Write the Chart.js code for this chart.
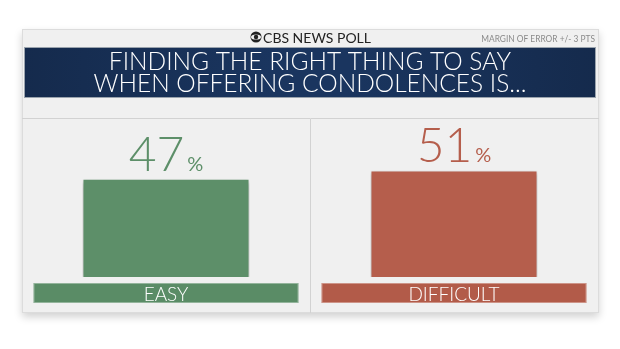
<!DOCTYPE html>
<html>
<head>
<meta charset="utf-8">
<script src="https://cdn.jsdelivr.net/npm/chart.js@4/dist/chart.umd.min.js"></script>
<style>
  html, body { margin: 0; padding: 0; background: #ffffff; }
  #wrap { width: 620px; height: 349px; position: relative; }
</style>
</head>
<body>
<div id="wrap"><canvas id="poll"></canvas></div>
<script>
// Poll answers
const answers = ['EASY', 'DIFFICULT'];
const shares = [47, 51];
const barColors = ['#5d8f69', '#b55e4c'];
const labelColors = ['#5a8c66', '#b25b49'];
const titleLines = ['FINDING THE RIGHT THING TO SAY', 'WHEN OFFERING CONDOLENCES IS...'];
const brand = 'CBS NEWS POLL';
const marginNote = 'MARGIN OF ERROR +/- 3 PTS';

const FONT = 'Lato, "Open Sans", sans-serif';

// Card, header strip and navy title banner behind the chart
const backdrop = {
    id: 'backdrop',
    beforeDraw(chart) {
        const ctx = chart.ctx;
        ctx.save();
        ctx.fillStyle = '#ffffff';
        ctx.fillRect(0, 0, chart.width, chart.height);

        // card with soft shadow
        ctx.shadowColor = 'rgba(0,0,0,0.18)';
        ctx.shadowBlur = 8;
        ctx.shadowOffsetY = 4;
        ctx.fillStyle = '#f0f0f0';
        ctx.fillRect(22, 29, 577, 284);
        ctx.shadowColor = 'transparent';
        ctx.strokeStyle = '#dcdcdc';
        ctx.lineWidth = 1;
        ctx.strokeRect(22.5, 29.5, 576, 283);

        // brand line
        ctx.fillStyle = '#222';
        ctx.font = '14px ' + FONT;
        ctx.textBaseline = 'alphabetic';
        ctx.textAlign = 'left';
        const bw = ctx.measureText(brand).width;
        const bx = 310 - (bw + 14) / 2 + 14;
        // eye mark
        ctx.beginPath();
        ctx.arc(bx - 7, 37, 5.5, 0, Math.PI * 2);
        ctx.fill();
        ctx.fillStyle = '#f0f0f0';
        ctx.beginPath();
        ctx.ellipse(bx - 7, 37, 5, 2.6, 0, 0, Math.PI * 2);
        ctx.fill();
        ctx.fillStyle = '#222';
        ctx.beginPath();
        ctx.arc(bx - 7, 37, 2.2, 0, Math.PI * 2);
        ctx.fill();
        ctx.fillText(brand, bx, 42.5);

        // margin note, slightly condensed
        ctx.fillStyle = '#8a8a8a';
        ctx.font = '9.5px ' + FONT;
        ctx.textAlign = 'right';
        ctx.save();
        ctx.translate(595, 42);
        ctx.scale(0.88, 1);
        ctx.fillText(marginNote, 0, 0);
        ctx.restore();

        // navy banner
        const g = ctx.createRadialGradient(310, 72, 40, 310, 72, 320);
        g.addColorStop(0, '#1a355f');
        g.addColorStop(1, '#14294a');
        ctx.fillStyle = g;
        ctx.fillRect(24, 47, 572, 51);
        ctx.strokeStyle = '#9aa3ad';
        ctx.strokeRect(24.5, 47.5, 571, 50);

        ctx.fillStyle = '#ffffff';
        ctx.font = '300 24.5px ' + FONT;
        ctx.textAlign = 'center';
        ctx.fillText(titleLines[0], 310, 70);
        ctx.fillText(titleLines[1], 310, 92);

        // panel separators
        ctx.strokeStyle = '#d2d2d2';
        ctx.beginPath();
        ctx.moveTo(22, 118.5);
        ctx.lineTo(599, 118.5);
        ctx.moveTo(310.5, 119);
        ctx.lineTo(310.5, 313);
        ctx.stroke();
        ctx.restore();
    }
};

// Shadow under the bars
const barShadow = {
    id: 'barShadow',
    beforeDatasetsDraw(chart) {
        const ctx = chart.ctx;
        ctx.save();
        ctx.shadowColor = 'rgba(0,0,0,0.3)';
        ctx.shadowBlur = 5;
        ctx.shadowOffsetY = 2;
    },
    afterDatasetsDraw(chart) {
        chart.ctx.restore();
    }
};

// Value labels above bars and category strips below
const annotate = {
    id: 'annotate',
    afterDraw(chart) {
        const ctx = chart.ctx;
        const xs = chart.scales.x;
        const meta = chart.getDatasetMeta(0);
        ctx.save();
        answers.forEach((name, i) => {
            const bar = meta.data[i];
            const cx = xs.getPixelForValue(i);
            const span = xs.width / answers.length;
            const w = span * 0.92;

            // category strip
            ctx.fillStyle = labelColors[i];
            ctx.fillRect(cx - w / 2, 283, w, 20);
            ctx.strokeStyle = 'rgba(255,255,255,0.35)';
            ctx.strokeRect(cx - w / 2 + 0.5, 283.5, w - 1, 19);
            ctx.fillStyle = '#ffffff';
            ctx.font = '300 19px ' + FONT;
            ctx.textAlign = 'center';
            ctx.textBaseline = 'alphabetic';
            ctx.fillText(name, cx, 300.5);

            // percentage
            ctx.fillStyle = barColors[i];
            ctx.font = '300 48px ' + FONT;
            const num = String(shares[i]);
            const nw = ctx.measureText(num).width;
            ctx.font = '20px ' + FONT;
            const pw = ctx.measureText('%').width;
            const total = nw + 3 + pw;
            const left = cx - total / 2;
            const base = bar.y - 8;
            ctx.textAlign = 'left';
            ctx.font = '300 48px ' + FONT;
            ctx.fillText(num, left, base);
            ctx.font = '20px ' + FONT;
            ctx.fillText('%', left + nw + 3, base);
        });
        ctx.restore();
    }
};

new Chart(document.getElementById('poll'), {
    type: 'bar',
    data: {
        labels: answers,
        datasets: [{
            data: shares,
            backgroundColor: barColors,
            borderColor: 'rgba(255,255,255,0.3)',
            borderWidth: 1,
            categoryPercentage: 1,
            barPercentage: 0.58
        }]
    },
    options: {
        responsive: true,
        maintainAspectRatio: false,
        animation: false,
        layout: { padding: { left: 22, right: 22, top: 68, bottom: 72 } },
        plugins: {
            legend: { display: false },
            tooltip: { enabled: false }
        },
        scales: {
            x: { display: false },
            y: { display: false, min: 0, max: 100 }
        }
    },
    plugins: [backdrop, barShadow, annotate]
});
</script>
</body>
</html>
